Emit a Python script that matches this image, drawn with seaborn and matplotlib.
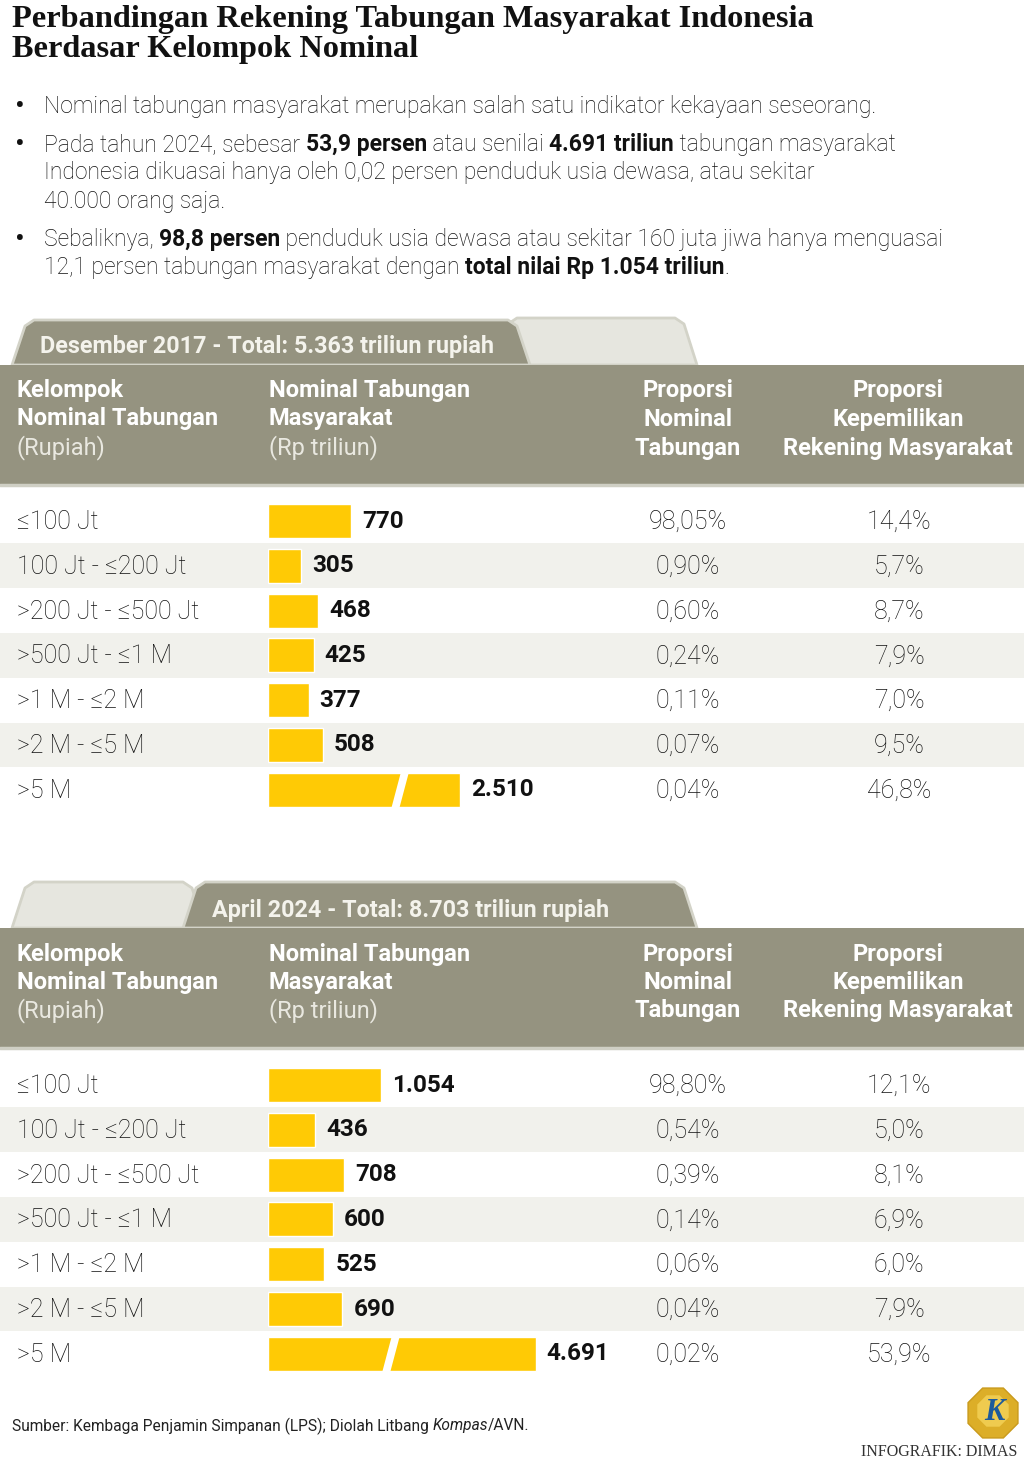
import matplotlib
matplotlib.use('Agg')
import numpy as np
import pandas as pd
import seaborn as sns
import matplotlib.pyplot as plt
from matplotlib.patches import Polygon, Rectangle, RegularPolygon

# ---- data ----
groups = ['≤100 Jt', '100 Jt - ≤200 Jt', '>200 Jt - ≤500 Jt', '>500 Jt - ≤1 M',
          '>1 M - ≤2 M', '>2 M - ≤5 M', '>5 M']
nominal_2017 = [770, 305, 468, 425, 377, 508, 2510]
prop_nominal_2017 = ['98,05%', '0,90%', '0,60%', '0,24%', '0,11%', '0,07%', '0,04%']
prop_rekening_2017 = ['14,4%', '5,7%', '8,7%', '7,9%', '7,0%', '9,5%', '46,8%']
nominal_2024 = [1054, 436, 708, 600, 525, 690, 4691]
prop_nominal_2024 = ['98,80%', '0,54%', '0,39%', '0,14%', '0,06%', '0,04%', '0,02%']
prop_rekening_2024 = ['12,1%', '5,0%', '8,1%', '6,9%', '6,0%', '7,9%', '53,9%']
tab_2017 = 'Desember 2017 - Total: 5.363 triliun rupiah'
tab_2024 = 'April 2024 - Total: 8.703 triliun rupiah'

sns.set_theme(style='white')
FONT = ['Roboto', 'DejaVu Sans']
plt.rcParams['font.family'] = FONT

W, H = 1024, 1479
SCALE = 0.1075          # px per trillion
ROW = 44.8
YELLOW = '#ffca05'
BAND = '#959380'
STRIPE = '#f1f1ec'
INK = '#111111'

fig = plt.figure(figsize=(W / 100, H / 100), dpi=100)
bg = fig.add_axes([0, 0, 1, 1])
bg.set_xlim(0, W)
bg.set_ylim(H, 0)
bg.axis('off')
renderer = fig.canvas.get_renderer()


def px_axes(x0, y0, x1, y1):
    return fig.add_axes([x0 / W, 1 - y1 / H, (x1 - x0) / W, (y1 - y0) / H])


def text_width(s, **kw):
    a = bg.text(0, 0, '|' + s + '|', **kw)
    b = bg.text(0, 0, '||', **kw)
    w = a.get_window_extent(renderer).width - b.get_window_extent(renderer).width
    a.remove()
    b.remove()
    return w


def rich(x, y, pieces, size=16.5):
    for s, wt in pieces:
        kw = dict(fontsize=size, fontweight=wt, color=INK)
        bg.text(x, y, s, va='center_baseline', ha='left', **kw)
        x += text_width(s, **kw)


# ---- title ----
for y, s in [(19, 'Perbandingan Rekening Tabungan Masyarakat Indonesia'),
             (49, 'Berdasar Kelompok Nominal')]:
    bg.text(12, y, s, family=['Liberation Serif', 'DejaVu Serif'], fontweight='bold',
            fontsize=23.3, va='center', color='#111111')

# ---- bullets ----
L = 'light'
B = 'bold'
bullets = [
    (104, [('Nominal tabungan masyarakat merupakan salah satu indikator kekayaan seseorang.', L)], True),
    (142, [('Pada tahun 2024, sebesar ', L), ('53,9 persen', B), (' atau senilai ', L),
           ('4.691 triliun', B), (' tabungan masyarakat', L)], True),
    (170, [('Indonesia dikuasai hanya oleh 0,02 persen penduduk usia dewasa, atau sekitar', L)], False),
    (199, [('40.000 orang saja.', L)], False),
    (237, [('Sebaliknya, ', L), ('98,8 persen', B),
           (' penduduk usia dewasa atau sekitar 160 juta jiwa hanya menguasai', L)], True),
    (265, [('12,1 persen tabungan masyarakat dengan ', L), ('total nilai Rp 1.054 triliun', B), ('.', L)], False),
]
for y, pieces, dot in bullets:
    if dot:
        bg.text(20, y, '•', fontsize=21, va='center_baseline', ha='center', color=INK)
    rich(44, y, pieces)

# ---- sections ----
sections = [
    dict(tab=tab_2017, top=320, band=365, row0=521, vals=nominal_2017,
         pn=prop_nominal_2017, pr=prop_rekening_2017, cap=1790, gap=1230, active='left'),
    dict(tab=tab_2024, top=882, band=928, row0=1085, vals=nominal_2024,
         pn=prop_nominal_2024, pr=prop_rekening_2024, cap=2490, gap=1145, active='right'),
]


def tab_shape(x0, x1, ytop, ybot, fc):
    pts = [(x0, ybot), (x0 + 13, ytop + 6), (x0 + 22, ytop), (x1 - 22, ytop),
           (x1 - 13, ytop + 6), (x1, ybot)]
    bg.add_patch(Polygon(pts, closed=True, fc=fc, ec='#d3d3c8', lw=2, joinstyle='round'))


for sec in sections:
    band = sec['band']
    top = sec['top']
    if sec['active'] == 'left':
        tab_shape(495, 697, top - 2, band, '#e6e6df')
        tab_shape(12, 530, top, band, BAND)
        tx = 40
    else:
        tab_shape(12, 205, top, band, '#e6e6df')
        tab_shape(183, 697, top, band, BAND)
        tx = 212
    bg.text(tx, band - 18, sec['tab'], fontsize=16.8, fontweight='bold', color='#f4f3ec',
            va='center')

    bg.add_patch(Rectangle((0, band), W, 120, fc=BAND, ec='none'))
    bg.plot([0, W], [band + 120, band + 120], color='#cfcfc4', lw=2.5)

    hk = dict(fontsize=17, fontweight='bold', color='white', va='center')
    hl = dict(fontsize=17, fontweight='normal', color='#e9e8e0', va='center')
    bg.text(17, band + 26, 'Kelompok', **hk)
    bg.text(17, band + 54, 'Nominal Tabungan', **hk)
    bg.text(17, band + 83, '(Rupiah)', **hl)
    bg.text(269, band + 26, 'Nominal Tabungan', **hk)
    bg.text(269, band + 54, 'Masyarakat', **hk)
    bg.text(269, band + 83, '(Rp triliun)', **hl)
    for k, s in enumerate(['Proporsi', 'Nominal', 'Tabungan']):
        bg.text(688, band + 26 + k * 28.5, s, ha='center', **hk)
    for k, s in enumerate(['Proporsi', 'Kepemilikan', 'Rekening Masyarakat']):
        bg.text(898, band + 26 + k * 28.5, s, ha='center', **hk)

    row0 = sec['row0']
    for i in range(len(groups)):
        yc = row0 + i * ROW
        if i % 2 == 1:
            bg.add_patch(Rectangle((0, yc - ROW / 2), W, ROW, fc=STRIPE, ec='none'))
        rk = dict(fontsize=18, fontweight='light', color=INK, va='center')
        bg.text(17, yc + 1, groups[i], **rk)
        bg.text(688, yc + 1, sec['pn'][i], ha='center', **rk)
        bg.text(899, yc + 1, sec['pr'][i], ha='center', **rk)

    # bars
    df = pd.DataFrame({'kelompok': groups, 'nominal': sec['vals']})
    df['tampil'] = np.minimum(df['nominal'], sec['cap'])
    ax = px_axes(268, row0 - ROW / 2, W, row0 + 6 * ROW + ROW / 2)
    sns.barplot(data=df, x='tampil', y='kelompok', orient='h', color=YELLOW,
                saturation=1, width=0.76, ax=ax)
    ax.set_xlim(0, (W - 268) / SCALE)
    ax.set_ylim(len(groups) - 0.5, -0.5)
    ax.axis('off')
    ax.patch.set_alpha(0)
    labels = [f'{v:,}'.replace(',', '.') for v in sec['vals']]
    ax.bar_label(ax.containers[0], labels=labels, padding=8, fontsize=17.5,
                 fontweight='bold', color='#111111')
    # break mark on the longest bar
    g = sec['gap']
    hw, sl = 4 / SCALE, 5 / SCALE
    yi = len(groups) - 1
    ax.add_patch(Polygon([(g - hw + sl, yi - 0.42), (g + hw + sl, yi - 0.42),
                          (g + hw - sl, yi + 0.42), (g - hw - sl, yi + 0.42)],
                         closed=True, fc='white', ec='none'))

# ---- footer ----
fk = dict(fontsize=11.2, fontweight='normal', color='#222222')
x = 12
for s, st in [('Sumber: Kembaga Penjamin Simpanan (LPS); Diolah Litbang ', 'normal'),
              ('Kompas', 'italic'), ('/AVN.', 'normal')]:
    bg.text(x, 1424, s, style=st, va='center_baseline', **fk)
    x += text_width(s, style=st, **fk)

bg.add_patch(RegularPolygon((993, 1413), numVertices=8, radius=27, orientation=np.pi / 8,
                            fc='#dcae28', ec='#c99a1c', lw=1))
bg.add_patch(RegularPolygon((993, 1411), numVertices=8, radius=17, orientation=np.pi / 8,
                            fc='#efcb4f', ec='none'))
bg.text(994, 1413, 'K', family=['Liberation Serif', 'DejaVu Serif'], style='italic',
        fontweight='bold', fontsize=22, color='#1d5a9b', ha='center', va='center')
bg.text(1017, 1452, 'INFOGRAFIK: DIMAS', family=['Liberation Serif', 'DejaVu Serif'],
        fontsize=11.5, color='#333333', ha='right', va='center')

fig.savefig('out.png', dpi=100)
